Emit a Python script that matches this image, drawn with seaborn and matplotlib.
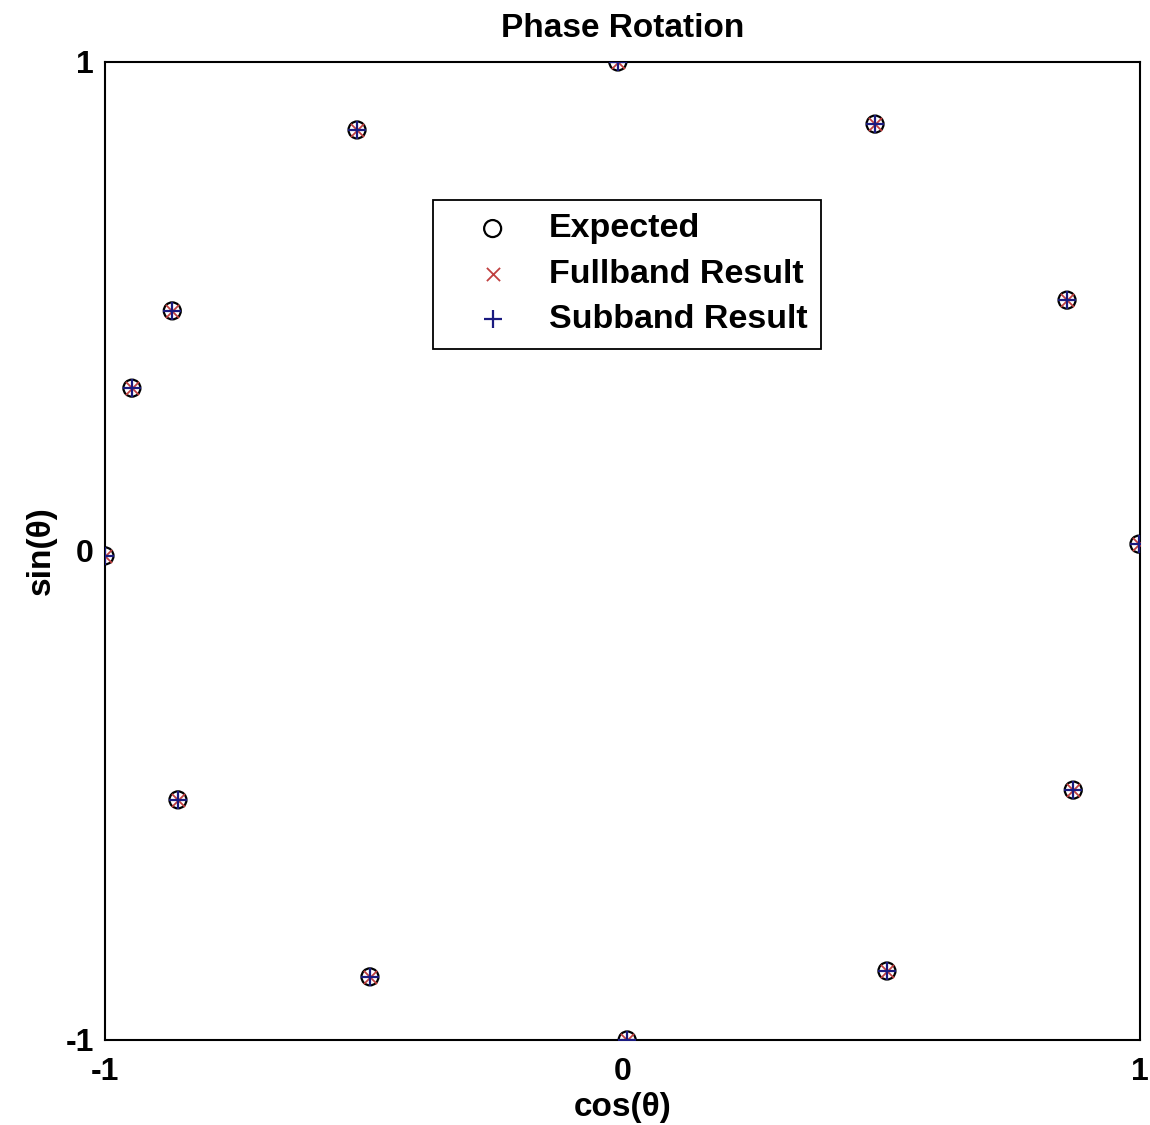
import matplotlib
matplotlib.use("Agg")
import matplotlib.pyplot as plt
import seaborn as sns
import pandas as pd

# Phase positions on the unit circle (cos, sin) for each method
expected_cos = [-0.009, -0.513, 0.488, 0.859, -0.870, -0.948, -1.000, 0.998, -0.859, 0.871, -0.488, 0.511, 0.009]
expected_sin = [1.000, 0.861, 0.873, 0.513, 0.491, 0.333, -0.010, 0.014, -0.509, -0.489, -0.871, -0.859, -1.000]
fullband_cos = list(expected_cos)
fullband_sin = list(expected_sin)
subband_cos = list(expected_cos)
subband_sin = list(expected_sin)

tick_vals = [-1, 0, 1]
tick_labels = ["-1", "0", "1"]

sns.set_style("white")
plt.rcParams["font.family"] = ["Liberation Sans", "DejaVu Sans"]
plt.rcParams["font.weight"] = "bold"
plt.rcParams["text.color"] = "black"
plt.rcParams["axes.labelcolor"] = "black"
plt.rcParams["xtick.color"] = "black"
plt.rcParams["ytick.color"] = "black"

fig = plt.figure(figsize=(11.5, 11.25), dpi=100)
ax = fig.add_axes([0.0913, 0.0756, 0.9, 0.8693])

df_exp = pd.DataFrame({"c": expected_cos, "s": expected_sin})
df_full = pd.DataFrame({"c": fullband_cos, "s": fullband_sin})
df_sub = pd.DataFrame({"c": subband_cos, "s": subband_sin})

sns.scatterplot(data=df_exp, x="c", y="s", ax=ax, marker="o", s=150,
                facecolor="none", edgecolor="black", linewidth=1.6,
                label="Expected", zorder=3)
sns.scatterplot(data=df_full, x="c", y="s", ax=ax, marker="x", s=90,
                color="#c04040", linewidth=1.3, label="Fullband Result", zorder=4)
sns.scatterplot(data=df_sub, x="c", y="s", ax=ax, marker="+", s=170,
                color="#1a1a80", linewidth=1.6, label="Subband Result", zorder=5)

ax.set_xlim(-1, 1)
ax.set_ylim(-1, 1)
ax.set_xticks(tick_vals)
ax.set_xticklabels(tick_labels)
ax.set_yticks(tick_vals)
ax.set_yticklabels(tick_labels)
ax.tick_params(axis="x", length=0, labelsize=23, pad=12)
ax.tick_params(axis="y", length=0, labelsize=23, pad=8)
for lbl in ax.get_xticklabels() + ax.get_yticklabels():
    lbl.set_fontweight("bold")

ax.set_xlabel("cos(θ)", fontsize=24, fontweight="bold", labelpad=4)
ax.set_ylabel("sin(θ)", fontsize=24, fontweight="bold", labelpad=6)
ax.set_title("Phase Rotation", fontsize=24, fontweight="bold", pad=18)

for sp in ax.spines.values():
    sp.set_visible(True)
    sp.set_color("black")
    sp.set_linewidth(1.5)

leg = ax.legend(loc="upper left", bbox_to_anchor=(0.317, 0.859),
                borderaxespad=0, fontsize=24.5, frameon=True, fancybox=False,
                framealpha=1, edgecolor="black", borderpad=0.4,
                handletextpad=0.3, labelspacing=0.42, handlelength=2.7)
leg.get_frame().set_linewidth(1.3)
for t in leg.get_texts():
    t.set_fontweight("bold")

fig.savefig("out.png", dpi=100)
